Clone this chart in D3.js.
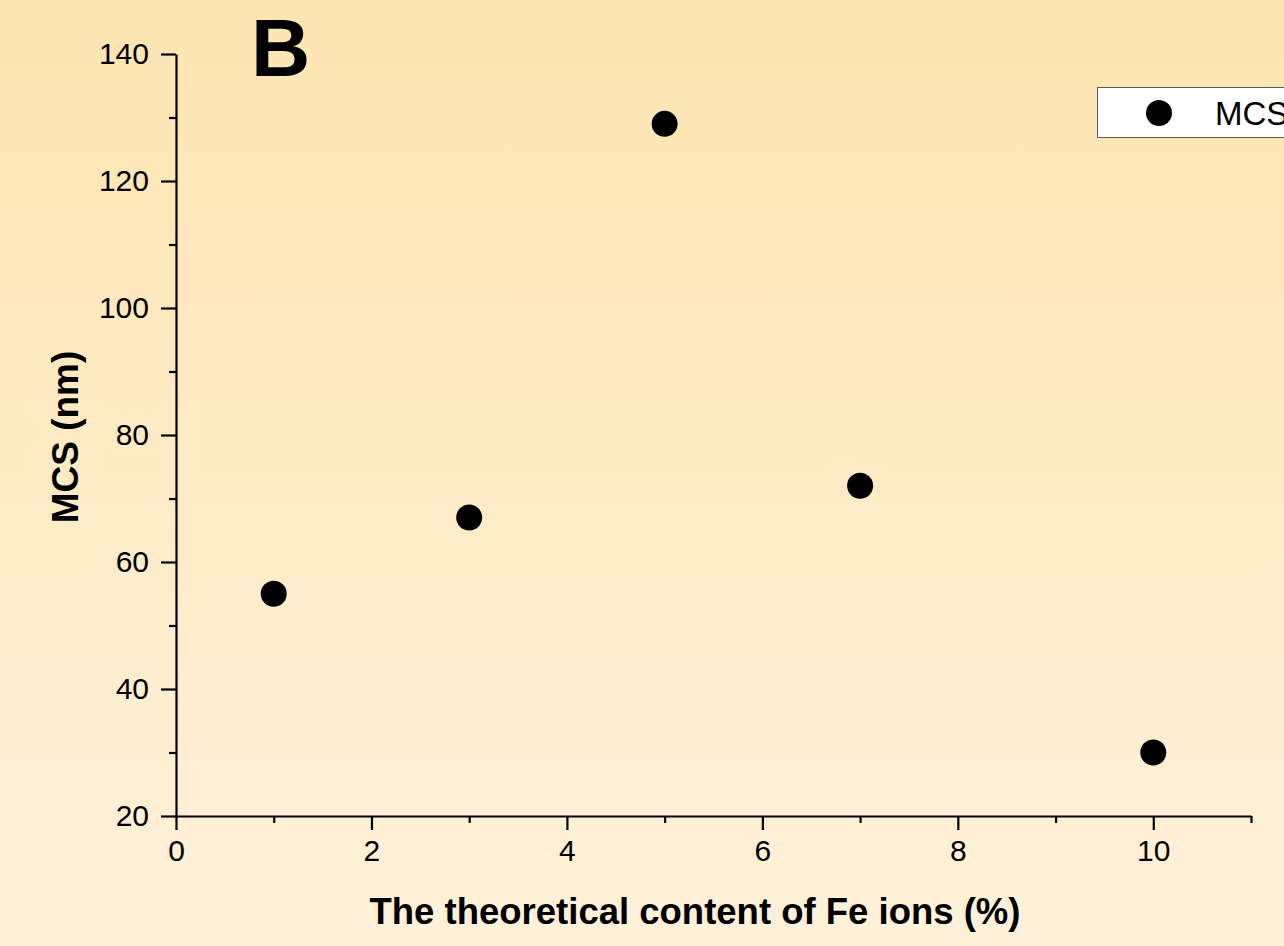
<!DOCTYPE html>
<meta charset="utf-8">
<style>
  body { margin: 0; }
  svg { display: block; font-family: Arial, "Liberation Sans", sans-serif; }
  .axis path, .axis line { stroke: #000; stroke-width: 2.2; }
  .axis text { font-size: 30px; fill: #000; }
</style>
<body></body>
<script src="https://d3js.org/d3.v7.min.js"></script>
<script>
// data
var feContent = [1, 3, 5, 7, 10];
var mcsValues = [55, 67, 129, 72, 30];
var xTicks = [0, 2, 4, 6, 8, 10];
var xMinor = [1, 3, 5, 7, 9, 11];
var yTicks = [20, 40, 60, 80, 100, 120, 140];
var yMinor = [30, 50, 70, 90, 110, 130];
var seriesName = "MCS";

var W = 1284, H = 946;

var svg = d3.select("body").append("svg")
    .attr("width", W)
    .attr("height", H);

var defs = svg.append("defs");
var grad = defs.append("linearGradient")
    .attr("id", "bg")
    .attr("x1", 0).attr("y1", 0).attr("x2", 0).attr("y2", 1);
grad.append("stop").attr("offset", "0%").attr("stop-color", "#fde5b1");
grad.append("stop").attr("offset", "100%").attr("stop-color", "#fff1da");

svg.append("rect")
    .attr("width", W).attr("height", H)
    .attr("fill", "url(#bg)");

var x = d3.scaleLinear().domain([0, 11]).range([176, 1251]);
var y = d3.scaleLinear().domain([20, 140]).range([816, 54]);

// x axis, major then minor ticks
svg.append("g")
    .attr("class", "axis")
    .attr("transform", "translate(0," + y(20) + ")")
    .call(d3.axisBottom(x).tickValues(xTicks).tickSize(14).tickSizeOuter(0).tickPadding(10).tickFormat(d3.format("d")));
svg.append("g")
    .attr("class", "axis")
    .attr("transform", "translate(0," + y(20) + ")")
    .call(d3.axisBottom(x).tickValues(xMinor).tickSize(7).tickSizeOuter(0).tickFormat(""))
    .select(".domain").remove();

// y axis
svg.append("g")
    .attr("class", "axis")
    .attr("transform", "translate(" + x(0) + ",0)")
    .call(d3.axisLeft(y).tickValues(yTicks).tickSize(15).tickSizeOuter(0).tickPadding(12).tickFormat(d3.format("d")));
svg.append("g")
    .attr("class", "axis")
    .attr("transform", "translate(" + x(0) + ",0)")
    .call(d3.axisLeft(y).tickValues(yMinor).tickSize(7).tickSizeOuter(0).tickFormat(""))
    .select(".domain").remove();

// points
svg.append("g")
    .selectAll("circle")
    .data(feContent)
    .enter()
    .append("circle")
    .attr("cx", function(d) { return x(d); })
    .attr("cy", function(d, i) { return y(mcsValues[i]); })
    .attr("r", 13)
    .attr("fill", "#000");

// axis titles
svg.append("text")
    .attr("x", 695).attr("y", 924)
    .attr("text-anchor", "middle")
    .style("font-size", "36.5px")
    .style("font-weight", "bold")
    .text("The theoretical content of Fe ions (%)");

svg.append("text")
    .attr("transform", "translate(78,437) rotate(-90)")
    .attr("text-anchor", "middle")
    .style("font-size", "37px")
    .style("font-weight", "bold")
    .text("MCS (nm)");

// panel letter
svg.append("text")
    .attr("x", 251).attr("y", 76)
    .style("font-size", "82px")
    .style("font-weight", "bold")
    .text("B");

// legend (cut by the right edge, as in the original)
var leg = svg.append("g");
leg.append("rect")
    .attr("x", 1097.5).attr("y", 87.5)
    .attr("width", 220).attr("height", 50)
    .attr("fill", "#fff")
    .attr("stroke", "#5a5a5a")
    .attr("stroke-width", 1);
leg.append("circle")
    .attr("cx", 1159).attr("cy", 113)
    .attr("r", 13)
    .attr("fill", "#000");
leg.append("text")
    .attr("x", 1215).attr("y", 125)
    .style("font-size", "33px")
    .text(seriesName);
</script>
